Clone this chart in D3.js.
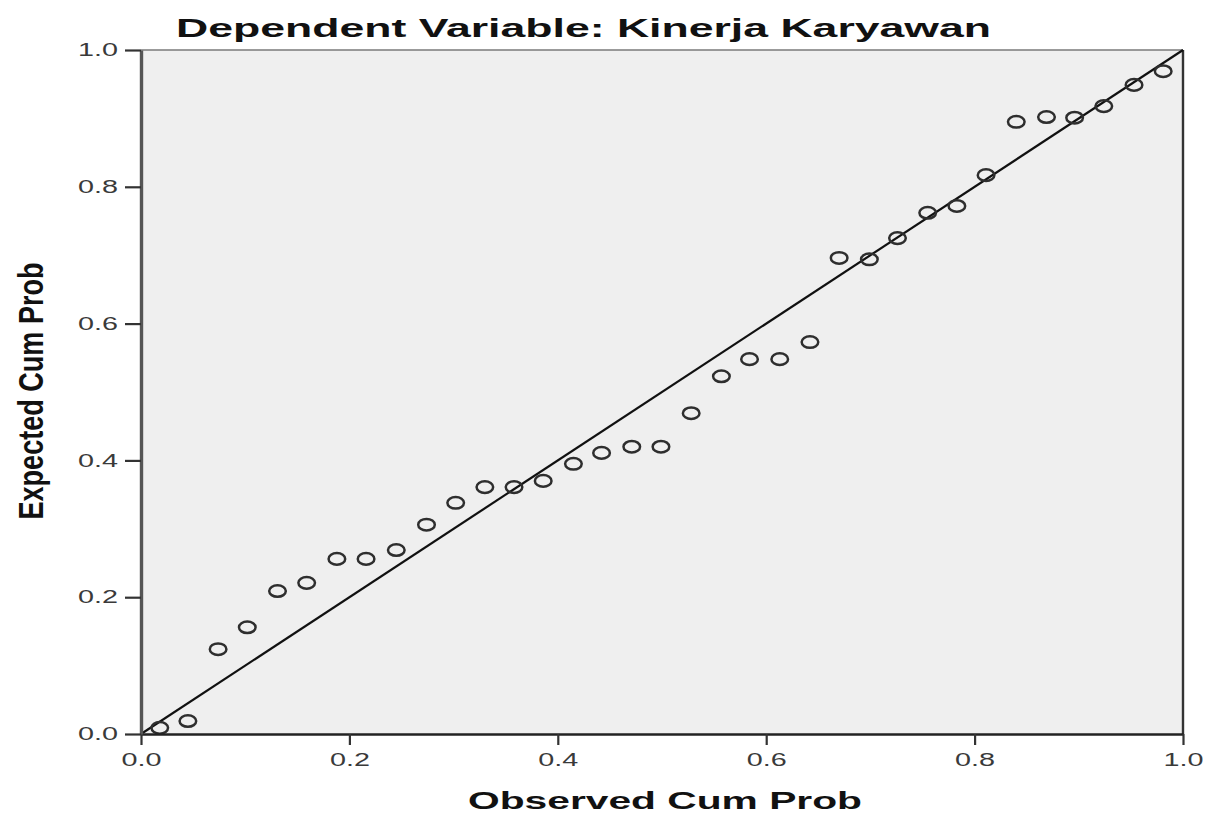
<!DOCTYPE html>
<html>
<head>
<meta charset="utf-8">
<script src="https://cdn.jsdelivr.net/npm/d3@7"></script>
<style>
  html, body { margin: 0; padding: 0; background: #ffffff; }
  svg { display: block; }
</style>
</head>
<body>
<svg id="chart" width="1211" height="821"></svg>
<script>
// ---- data ----
const observedCumProb = [
  0.018, 0.045, 0.074, 0.102, 0.131, 0.159, 0.188, 0.216, 0.245, 0.274,
  0.302, 0.330, 0.358, 0.386, 0.415, 0.442, 0.471, 0.499, 0.528, 0.557,
  0.584, 0.613, 0.642, 0.670, 0.699, 0.726, 0.755, 0.783, 0.811, 0.840,
  0.869, 0.896, 0.924, 0.953, 0.981
];
const expectedCumProb = [
  0.009, 0.019, 0.124, 0.156, 0.209, 0.221, 0.256, 0.256, 0.269, 0.306,
  0.338, 0.361, 0.361, 0.370, 0.395, 0.411, 0.420, 0.420, 0.469, 0.523,
  0.548, 0.548, 0.573, 0.696, 0.694, 0.725, 0.762, 0.772, 0.817, 0.895,
  0.902, 0.901, 0.918, 0.949, 0.969
];
const tickValues = [0.0, 0.2, 0.4, 0.6, 0.8, 1.0];
const tickLabels = ["0.0", "0.2", "0.4", "0.6", "0.8", "1.0"];
const referenceLine = [[0, 0], [1, 1]];
const titleText = "Dependent Variable: Kinerja Karyawan";
const xTitle = "Observed Cum Prob";
const yTitle = "Expected Cum Prob";

// ---- layout ----
const svg = d3.select("#chart");
const pLeft = 141, pRight = 1183, pTop = 50, pBottom = 734;
const x = d3.scaleLinear().domain([0, 1]).range([pLeft, pRight]);
const y = d3.scaleLinear().domain([0, 1]).range([pBottom, pTop]);
const FONT = "Arial, 'Liberation Sans', Helvetica, sans-serif";

// plot background
svg.append("rect")
  .attr("x", pLeft).attr("y", pTop)
  .attr("width", pRight - pLeft).attr("height", pBottom - pTop)
  .attr("fill", "#efefef");

// top border (thin grey) and right border (dark)
svg.append("line")
  .attr("x1", pLeft).attr("x2", pRight).attr("y1", pTop).attr("y2", pTop)
  .attr("stroke", "#7a7a7a").attr("stroke-width", 1.6);
svg.append("line")
  .attr("x1", pRight).attr("x2", pRight).attr("y1", pTop).attr("y2", pBottom)
  .attr("stroke", "#333").attr("stroke-width", 2.4);

// reference diagonal
svg.append("path")
  .datum(referenceLine)
  .attr("d", d3.line().x(d => x(d[0])).y(d => y(d[1])))
  .attr("fill", "none")
  .attr("stroke", "#111")
  .attr("stroke-width", 2.2);

// points
svg.append("g").selectAll("ellipse")
  .data(observedCumProb.map((v, i) => [v, expectedCumProb[i]]))
  .join("ellipse")
  .attr("cx", d => x(d[0]))
  .attr("cy", d => y(d[1]))
  .attr("rx", 8.3)
  .attr("ry", 5.8)
  .attr("fill", "none")
  .attr("stroke", "#2e2e2e")
  .attr("stroke-width", 2.5);

// x axis
const xAxis = svg.append("g")
  .attr("transform", `translate(0,${pBottom})`)
  .call(d3.axisBottom(x).tickValues(tickValues)
    .tickFormat((d, i) => tickLabels[i]).tickSize(11).tickSizeOuter(0));
xAxis.select(".domain").attr("stroke", "#222").attr("stroke-width", 2.4);
xAxis.selectAll(".tick line").attr("stroke", "#333").attr("stroke-width", 2.2);
xAxis.selectAll(".tick text")
  .attr("y", 19)
  .attr("dy", "0.71em")
  .attr("fill", "#3a3a3a")
  .style("font-family", FONT)
  .style("font-size", "18px")
  .attr("textLength", 40)
  .attr("lengthAdjust", "spacingAndGlyphs");

// y axis
const yAxis = svg.append("g")
  .attr("transform", `translate(${pLeft},0)`)
  .call(d3.axisLeft(y).tickValues(tickValues)
    .tickFormat((d, i) => tickLabels[i]).tickSize(16).tickSizeOuter(0));
yAxis.select(".domain").attr("stroke", "#555").attr("stroke-width", 3.4);
yAxis.selectAll(".tick line").attr("stroke", "#333").attr("stroke-width", 2.2);
yAxis.selectAll(".tick text")
  .attr("x", -23)
  .attr("fill", "#3a3a3a")
  .style("font-family", FONT)
  .style("font-size", "18px")
  .attr("textLength", 40)
  .attr("lengthAdjust", "spacingAndGlyphs");

// chart title
svg.append("text")
  .attr("x", (176 + 991) / 2).attr("y", 37)
  .attr("text-anchor", "middle")
  .style("font-family", FONT)
  .style("font-size", "26px")
  .style("font-weight", "bold")
  .attr("fill", "#111")
  .attr("textLength", 815)
  .attr("lengthAdjust", "spacingAndGlyphs")
  .text(titleText);

// x axis title
svg.append("text")
  .attr("x", (468 + 862) / 2).attr("y", 809)
  .attr("text-anchor", "middle")
  .style("font-family", FONT)
  .style("font-size", "23px")
  .style("font-weight", "bold")
  .attr("fill", "#111")
  .attr("textLength", 394)
  .attr("lengthAdjust", "spacingAndGlyphs")
  .text(xTitle);

// y axis title (rotated; horizontally stretched like the reference)
svg.append("text")
  .attr("transform", "translate(43,391) scale(1.45,1) rotate(-90)")
  .attr("text-anchor", "middle")
  .style("font-family", FONT)
  .style("font-size", "24px")
  .style("font-weight", "bold")
  .attr("fill", "#111")
  .attr("textLength", 257)
  .attr("lengthAdjust", "spacingAndGlyphs")
  .text(yTitle);
</script>
</body>
</html>
